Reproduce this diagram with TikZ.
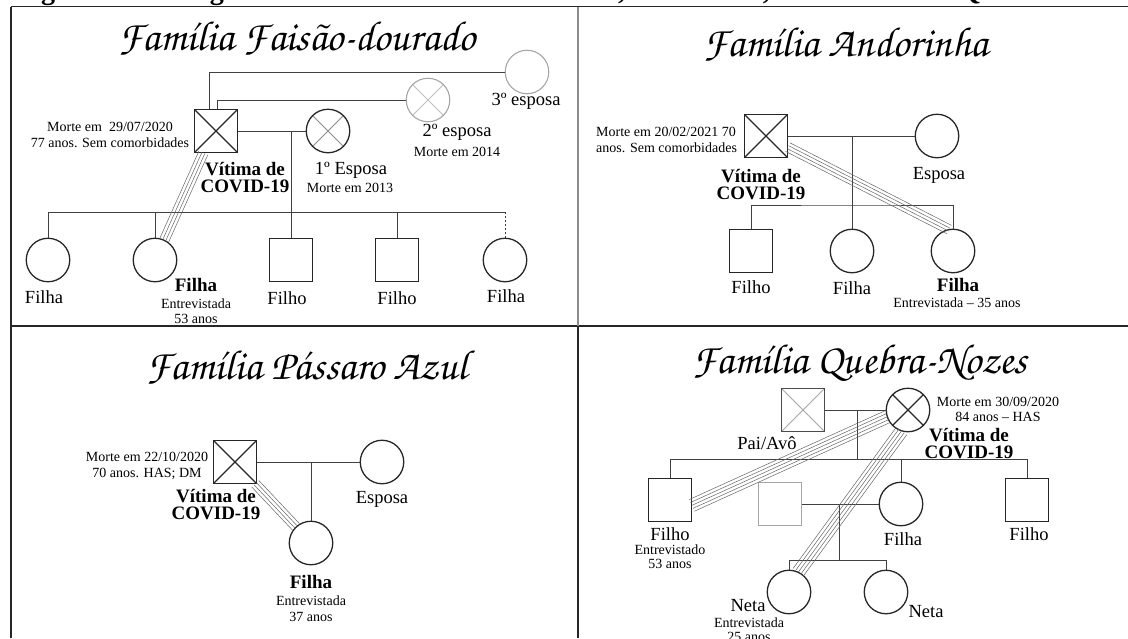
\documentclass[tikz,border=0pt]{standalone}
\usepackage{fontspec}
\setmainfont{Liberation Serif}
\newfontfamily\titlefont{TeX Gyre Chorus}
\usetikzlibrary{positioning,calc}

\begin{document}
\begin{tikzpicture}[x=1pt,y=-1pt,
		person/.style={draw=black!85,line width=1.3pt,inner sep=0pt,outer sep=0pt,minimum size=43.5pt},
		male/.style={person,rectangle},
		female/.style={person,circle},
		ghost/.style={draw=black!35,line width=1.1pt},
		dead/.style={path picture={\draw[#1] (path picture bounding box.north west) -- (path picture bounding box.south east)
			(path picture bounding box.south west) -- (path picture bounding box.north east);}},
		dead/.default={black!85,line width=1.2pt},
		link/.style={draw=black!75,line width=0.8pt},
		bond/.style={draw=black!60,line width=0.5pt},
		panel/.style={draw=black!85,line width=1.6pt},
		ttl/.style={font=\titlefont\fontsize{42}{42}\selectfont,anchor=base,inner sep=0pt},
		lbl/.style={font=\fontsize{18.5}{20}\selectfont,inner sep=0pt},
		note/.style={font=\fontsize{14}{16}\selectfont,inner sep=0pt,align=center},
		vic/.style={font=\bfseries\fontsize{19}{17}\selectfont,inner sep=0pt,align=center}]
	\useasboundingbox (0,0) rectangle (1128,638);
	
	% caption, cut by the top of the page
	\node (cap) [font=\bfseries\fontsize{28}{28}\selectfont,anchor=base west,inner sep=0pt] at (16,-1)
		{Figura 3 – Genograma da Família Faisão-dourado, Andorinha, Pássaro Azul e Quebra-Nozes};
	
	% panels
	\draw[panel] (11,6.5) -- (1128,6.5) (11,6.5) -- (11,638) (11,326) -- (1128,326) (578,326) -- (578,638);
	\draw[panel,draw=black!45] (578,6.5) -- (578,326);
	
	% Familia Faisao-dourado
	\node (fdTitle)  [ttl]                                    at (297,50)  {Família Faisão-dourado};
	\node (fdVit)    [male,dead]                              at (216,131) {};
	\node (fdEsp1)   [female,dead={black!45,line width=0.8pt},right=68.5pt of fdVit] {};
	\node (fdEsp2)   [female,ghost,dead={black!25,line width=0.8pt}] at (428,100) {};
	\node (fdEsp3)   [female,ghost]                           at (527,72)  {};
	\node (fdFilha1) [female]                                 at (48,260)  {};
	\node (fdFilha2) [female,right=63.5pt of fdFilha1]        {};
	\node (fdFilho1) [male]                                   at (291,260) {};
	\node (fdFilho2) [male,right=62.5pt of fdFilho1]          {};
	\node (fdFilha3) [female,right=64.5pt of fdFilho2]        {};
	
	\node (fdMorte)  [note] at (110,135) {Morte em\ \ 29/07/2020\\77 anos. Sem comorbidades};
	\node (fdVitLbl) [vic]  at (245,178) {Vítima de\\COVID-19};
	\node (fdEsp1Lbl)  [lbl]  at (351,170) {1º Esposa};
	\node (fdEsp1Note) [note] at (350,188) {Morte em 2013};
	\node (fdEsp2Lbl)  [lbl]  at (457,132) {2º esposa};
	\node (fdEsp2Note) [note] at (457,152) {Morte em 2014};
	\node (fdEsp3Lbl)  [lbl]  at (526,101) {3º esposa};
	\node (fdFilha1Lbl) [lbl] at (44,297)  {Filha};
	\node (fdFilha2Lbl) [vic] at (196,285) {Filha};
	\node (fdFilha2Note) [note,font=\fontsize{14}{15}\selectfont] at (196,311) {Entrevistada\\53 anos};
	\node (fdFilho1Lbl) [lbl] at (287,298) {Filho};
	\node (fdFilho2Lbl) [lbl] at (397,298) {Filho};
	\node (fdFilha3Lbl) [lbl] at (506,296) {Filha};
	
	\coordinate (fdSib) at (300,212);
	\draw[link] (fdVit) -- (fdEsp1);
	\draw[link] ([xshift=-7pt]fdVit.north) |- (fdEsp3);
	\draw[link] ([xshift=1pt]fdVit.north) |- (fdEsp2);
	\draw[link] (fdFilho1) -- (fdFilho1 |- fdVit);
	\draw[link] (fdFilha1) |- (fdFilha3 |- fdSib);
	\draw[link] (fdFilha2) -- (fdFilha2 |- fdSib);
	\draw[link] (fdFilho2) -- (fdFilho2 |- fdSib);
	\draw[link,dash pattern=on 2pt off 2pt] (fdFilha3) -- (fdFilha3 |- fdSib);
	\draw[bond] ($(fdVit.-120)!4.8pt!90:(fdFilha2.65)$) -- ($(fdFilha2.65)!4.8pt!-90:(fdVit.-120)$)
		($(fdVit.-120)!1.6pt!90:(fdFilha2.65)$) -- ($(fdFilha2.65)!1.6pt!-90:(fdVit.-120)$)
		($(fdVit.-120)!-1.6pt!90:(fdFilha2.65)$) -- ($(fdFilha2.65)!-1.6pt!-90:(fdVit.-120)$)
		($(fdVit.-120)!-4.8pt!90:(fdFilha2.65)$) -- ($(fdFilha2.65)!-4.8pt!-90:(fdVit.-120)$);
	
	% Familia Andorinha
	\node (anTitle)  [ttl]                                at (846,56)  {Família Andorinha};
	\node (anVit)    [male,dead]                          at (766,136) {};
	\node (anEsp)    [female,right=127.5pt of anVit]      {};
	\node (anFilho)  [male]                               at (751,251) {};
	\node (anFilha1) [female,right=57.5pt of anFilho]     {};
	\node (anFilha2) [female,right=57.5pt of anFilha1]    {};
	
	\node (anMorte)  [note,align=left,anchor=west] at (596,140) {Morte em 20/02/2021 70\\anos. Sem comorbidades};
	\node (anVitLbl) [vic]  at (761,185) {Vítima de\\COVID-19};
	\node (anEspLbl) [lbl]  at (939,175) {Esposa};
	\node (anFilhoLbl)  [lbl] at (751,287) {Filho};
	\node (anFilha1Lbl) [lbl] at (852,288) {Filha};
	\node (anFilha2Lbl) [vic] at (958,285) {Filha};
	\node (anFilha2Note) [note] at (957,303) {Entrevistada – 35 anos};
	
	\coordinate (anSib) at (850,205);
	\draw[link] (anVit) -- (anEsp);
	\draw[link] (anFilha1) -- (anFilha1 |- anVit);
	\draw[link] (anFilho) |- (anSib) -| (anFilha2);
	\draw[bond] ($(anVit.-27)!4.8pt!90:(anFilha2.100)$) -- ($(anFilha2.100)!4.8pt!-90:(anVit.-27)$)
		($(anVit.-27)!1.6pt!90:(anFilha2.100)$) -- ($(anFilha2.100)!1.6pt!-90:(anVit.-27)$)
		($(anVit.-27)!-1.6pt!90:(anFilha2.100)$) -- ($(anFilha2.100)!-1.6pt!-90:(anVit.-27)$)
		($(anVit.-27)!-4.8pt!90:(anFilha2.100)$) -- ($(anFilha2.100)!-4.8pt!-90:(anVit.-27)$);
	
	% Familia Passaro Azul
	\node (paTitle)  [ttl]                             at (307,379) {Família Pássaro Azul};
	\node (paVit)    [male,dead]                       at (235,462) {};
	\node (paEsp)    [female,right=103.5pt of paVit]   {};
	\node (paFilha)  [female]                          at (311,543) {};
	
	\node (paMorte)  [note] at (147,466) {Morte em 22/10/2020\\70 anos. HAS; DM};
	\node (paVitLbl) [vic]  at (216,505) {Vítima de\\COVID-19};
	\node (paEspLbl) [lbl]  at (382,499) {Esposa};
	\node (paFilhaLbl)  [vic]  at (311,582) {Filha};
	\node (paFilhaNote) [note] at (311,609) {Entrevistada\\37 anos};
	
	\draw[link] (paVit) -- (paEsp);
	\draw[link] (paFilha) -- (paFilha |- paVit);
	\draw[bond] ($(paVit.-47)!4.8pt!90:(paFilha.133)$) -- ($(paFilha.133)!4.8pt!-90:(paVit.-47)$)
		($(paVit.-47)!1.6pt!90:(paFilha.133)$) -- ($(paFilha.133)!1.6pt!-90:(paVit.-47)$)
		($(paVit.-47)!-1.6pt!90:(paFilha.133)$) -- ($(paFilha.133)!-1.6pt!-90:(paVit.-47)$)
		($(paVit.-47)!-4.8pt!90:(paFilha.133)$) -- ($(paFilha.133)!-4.8pt!-90:(paVit.-47)$);
	
	% Familia Quebra-Nozes
	\node (qnTitle)  [ttl]                                         at (860,373) {Família Quebra-Nozes};
	\node (qnPai)    [male,draw=black!70,dead={black!35,line width=0.8pt}] at (803,410) {};
	\node (qnVit)    [female,dead,right=61.5pt of qnPai]           {};
	\node (qnFilho1) [male]                                        at (670,500) {};
	\node (qnGenro)  [male,ghost]                                  at (780,504) {};
	\node (qnFilha)  [female,right=77.5pt of qnGenro]              {};
	\node (qnFilho2) [male]                                        at (1027,500) {};
	\node (qnNeta1)  [female]                                      at (789,592) {};
	\node (qnNeta2)  [female,right=53.5pt of qnNeta1]              {};
	
	\node (qnMorte)  [note,font=\fontsize{14}{15}\selectfont] at (998,409) {Morte em 30/09/2020\\84 anos – HAS};
	\node (qnVitLbl) [vic]  at (969,444) {Vítima de\\COVID-19};
	\node (qnPaiLbl) [lbl]  at (767,443) {Pai/Avô};
	\node (qnFilho1Lbl)  [lbl]  at (670,534) {Filho};
	\node (qnFilho1Note) [note,font=\fontsize{14}{14}\selectfont] at (670,557) {Entrevistado\\53 anos};
	\node (qnFilhaLbl)   [lbl]  at (903,539) {Filha};
	\node (qnFilho2Lbl)  [lbl]  at (1029,534) {Filho};
	\node (qnNeta1Lbl)   [lbl]  at (748,606) {Neta};
	\node (qnNeta1Note)  [note,font=\fontsize{14}{14}\selectfont] at (749,630) {Entrevistada\\25 anos};
	\node (qnNeta2Lbl)   [lbl]  at (926,612) {Neta};
	
	\coordinate (qnSib)  at (857,459);
	\coordinate (qnSib2) at (839,560);
	\draw[link] (qnPai) -- (qnVit);
	\draw[link] (qnSib) -- (qnSib |- qnVit);
	\draw[link] (qnFilho1) |- (qnFilho2 |- qnSib) -- (qnFilho2);
	\draw[link] (qnFilha) -- (qnFilha |- qnSib);
	\draw[link] (qnGenro) -- (qnFilha);
	\draw[link] (qnSib2) -- (qnSib2 |- qnFilha);
	\draw[link] (qnNeta1) |- (qnNeta2 |- qnSib2) -- (qnNeta2);
	\draw[bond] ($(qnVit.198)!6.4pt!90:(qnFilho1.-14)$) -- ($(qnFilho1.-14)!6.4pt!-90:(qnVit.198)$)
		($(qnVit.198)!3.2pt!90:(qnFilho1.-14)$) -- ($(qnFilho1.-14)!3.2pt!-90:(qnVit.198)$)
		(qnVit.198) -- (qnFilho1.-14)
		($(qnVit.198)!-3.2pt!90:(qnFilho1.-14)$) -- ($(qnFilho1.-14)!-3.2pt!-90:(qnVit.198)$)
		($(qnVit.198)!-6.4pt!90:(qnFilho1.-14)$) -- ($(qnFilho1.-14)!-6.4pt!-90:(qnVit.198)$);
	\draw[bond] ($(qnVit.-107)!6.4pt!90:(qnNeta1.65)$) -- ($(qnNeta1.65)!6.4pt!-90:(qnVit.-107)$)
		($(qnVit.-107)!3.2pt!90:(qnNeta1.65)$) -- ($(qnNeta1.65)!3.2pt!-90:(qnVit.-107)$)
		(qnVit.-107) -- (qnNeta1.65)
		($(qnVit.-107)!-3.2pt!90:(qnNeta1.65)$) -- ($(qnNeta1.65)!-3.2pt!-90:(qnVit.-107)$)
		($(qnVit.-107)!-6.4pt!90:(qnNeta1.65)$) -- ($(qnNeta1.65)!-6.4pt!-90:(qnVit.-107)$);
\end{tikzpicture}
\end{document}
